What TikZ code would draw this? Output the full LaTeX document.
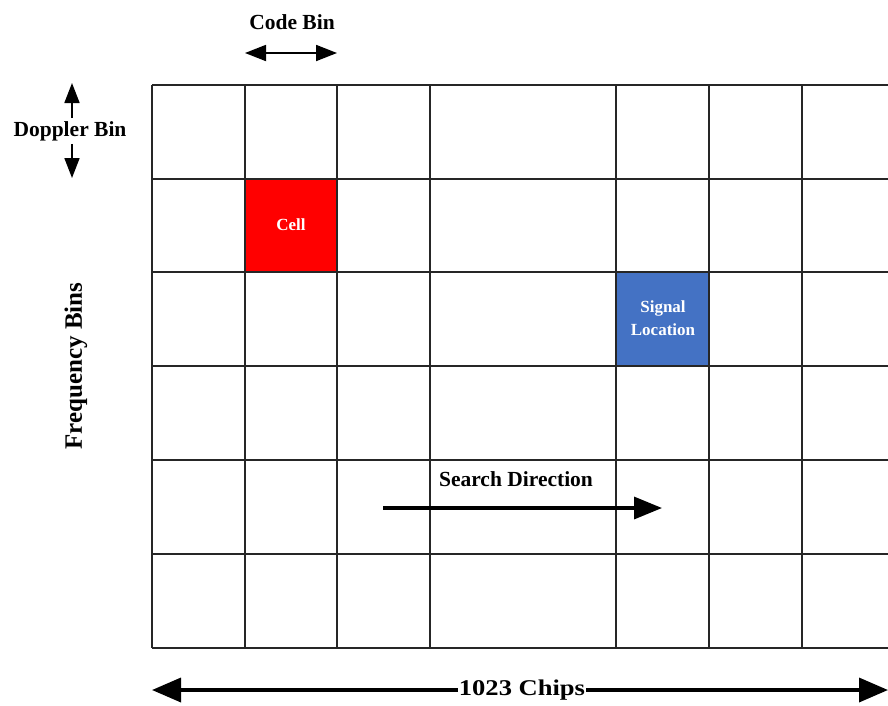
\documentclass[tikz,border=0pt]{standalone}
\usepackage{fontspec}
\setmainfont{Liberation Serif}
\usetikzlibrary{arrows.meta}
\definecolor{cellred}{RGB}{255,0,0}
\definecolor{sigblue}{RGB}{68,114,196}

\begin{document}
\begin{tikzpicture}[x=1pt, y=-1pt,
  gridline/.style={draw=black!85, line width=1.9pt},
  lbl/.style={font=\fontsize{21.5}{24}\selectfont\bfseries, inner sep=3pt},
  celltext/.style={font=\fontsize{17}{23}\selectfont\bfseries, text=white, align=center},
  bigarrow/.style={line width=3.6pt, -{Triangle[length=29pt, width=24pt]}},
  smallarrow/.style={line width=1.8pt, -{Triangle[length=20pt, width=15pt]}},
  midarrow/.style={line width=3.4pt, -{Triangle[length=28pt, width=22pt]}}]
\useasboundingbox (0,0) rectangle (888,705);
\clip (0,0) rectangle (888,705);
% Highlighted cells
\fill[cellred] (245,179) rectangle (337,272);
\fill[sigblue] (616,272) rectangle (709,366);
% Grid
\foreach \x in {152,245,337,430,616,709,802} {
  \draw[gridline] (\x,85) -- (\x,648);
}
\foreach \y in {85,179,272,366,460,554,648} {
  \draw[gridline] (152,\y) -- (900,\y);
}
% Cell labels
\node[celltext] (cell) at (291,225) {Cell};
\node[celltext] (signal) at (663,318) {Signal\\Location};
% Code bin
\node[lbl] (codebin) at (292,22) {Code Bin};
\coordinate (codeL) at (245,53);
\coordinate (codeR) at (337,53);
\draw[line width=1.8pt, {Triangle[length=21pt, width=16pt]}-{Triangle[length=21pt, width=16pt]}] (codeL) -- (codeR);
% Doppler bin
\node[lbl] (doppler) at (70,131) {Doppler Bin};
\coordinate (dopUp) at (72,83);
\coordinate (dopDown) at (72,178);
\draw[smallarrow] (doppler.north -| dopUp) -- (dopUp);
\draw[smallarrow] (doppler.south -| dopDown) -- (dopDown);
% Frequency axis
\node[lbl, font=\fontsize{25}{28}\selectfont\bfseries, rotate=90] (freq) at (76,366) {Frequency Bins};
% Search direction
\node[lbl] (search) at (516,479) {Search Direction};
\coordinate (searchS) at (383,508);
\coordinate (searchE) at (662,508);
\draw[midarrow] (searchS) -- (searchE);
% Chips
\node[lbl, font=\fontsize{22.5}{26}\selectfont\bfseries, inner sep=1pt] (chips) at (522,690) {\scalebox{1.18}[1]{1023 Chips}};
\coordinate (chipL) at (152,690);
\coordinate (chipR) at (888,690);
\draw[bigarrow] (chips.west) -- (chipL);
\draw[bigarrow] (chips.east) -- (chipR);
\end{tikzpicture}
\end{document}
